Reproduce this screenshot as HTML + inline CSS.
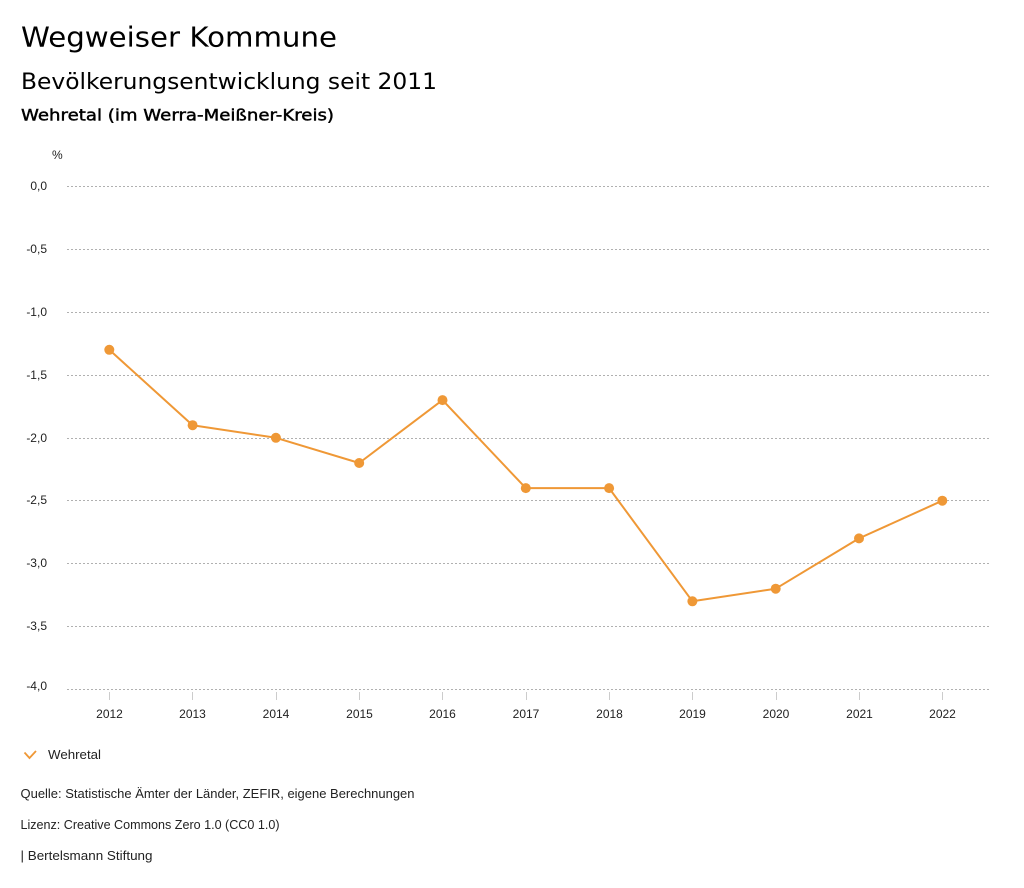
<!DOCTYPE html>
<html><head><meta charset="utf-8"><style>
html,body{margin:0;padding:0;background:#fff;width:1024px;height:888px;overflow:hidden}
svg{display:block}
</style></head><body>
<svg width="1024" height="888" viewBox="0 0 1024 888" xmlns="http://www.w3.org/2000/svg">
<g font-family="'DejaVu Sans', sans-serif" fill="#000">
<text x="21" y="46.5" font-size="28" textLength="316" lengthAdjust="spacingAndGlyphs">Wegweiser Kommune</text>
<text x="21" y="89" font-size="22" textLength="416" lengthAdjust="spacingAndGlyphs">Bevölkerungsentwicklung seit 2011</text>
<text x="21" y="120.5" font-size="16" stroke="#000" stroke-width="0.45" textLength="313" lengthAdjust="spacingAndGlyphs">Wehretal (im Werra-Meißner-Kreis)</text>
</g>
<g font-family="'Liberation Sans', sans-serif" font-size="12" fill="#222">
<text x="52" y="159">%</text>
<g text-anchor="end">
<text x="47" y="190">0,0</text>
<text x="47" y="253">-0,5</text>
<text x="47" y="316">-1,0</text>
<text x="47" y="379">-1,5</text>
<text x="47" y="442">-2,0</text>
<text x="47" y="504">-2,5</text>
<text x="47" y="567">-3,0</text>
<text x="47" y="630">-3,5</text>
<text x="47" y="690">-4,0</text>
</g>
</g>
<g stroke="#b0b0b0" stroke-width="1" stroke-dasharray="2,2">
<line x1="67" x2="990" y1="186.5" y2="186.5"/>
<line x1="67" x2="990" y1="249.5" y2="249.5"/>
<line x1="67" x2="990" y1="312.5" y2="312.5"/>
<line x1="67" x2="990" y1="375.5" y2="375.5"/>
<line x1="67" x2="990" y1="438.5" y2="438.5"/>
<line x1="67" x2="990" y1="500.5" y2="500.5"/>
<line x1="67" x2="990" y1="563.5" y2="563.5"/>
<line x1="67" x2="990" y1="626.5" y2="626.5"/>
<line x1="67" x2="990" y1="689.5" y2="689.5"/>
</g>
<g stroke="#ccc" stroke-width="1">
<line x1="109.5" x2="109.5" y1="692" y2="700"/>
<line x1="192.5" x2="192.5" y1="692" y2="700"/>
<line x1="276.5" x2="276.5" y1="692" y2="700"/>
<line x1="359.5" x2="359.5" y1="692" y2="700"/>
<line x1="442.5" x2="442.5" y1="692" y2="700"/>
<line x1="526.5" x2="526.5" y1="692" y2="700"/>
<line x1="609.5" x2="609.5" y1="692" y2="700"/>
<line x1="692.5" x2="692.5" y1="692" y2="700"/>
<line x1="776.5" x2="776.5" y1="692" y2="700"/>
<line x1="859.5" x2="859.5" y1="692" y2="700"/>
<line x1="942.5" x2="942.5" y1="692" y2="700"/>
</g>
<g font-family="'Liberation Sans', sans-serif" font-size="12" fill="#222" text-anchor="middle">
<text x="109.5" y="718">2012</text>
<text x="192.5" y="718">2013</text>
<text x="276" y="718">2014</text>
<text x="359.5" y="718">2015</text>
<text x="442.5" y="718">2016</text>
<text x="526" y="718">2017</text>
<text x="609.5" y="718">2018</text>
<text x="692.5" y="718">2019</text>
<text x="776" y="718">2020</text>
<text x="859.5" y="718">2021</text>
<text x="942.5" y="718">2022</text>
</g>
<polyline fill="none" stroke="#ef9836" stroke-width="2" stroke-linejoin="round"
points="109.3,349.8 192.6,425.2 275.9,437.8 359.2,463 442.5,400.1 525.8,488.1 609.1,488.1 692.4,601.3 775.7,588.7 859,538.4 942.3,500.7"/>
<g fill="#ef9836">
<circle cx="109.3" cy="349.8" r="5"/>
<circle cx="192.6" cy="425.2" r="5"/>
<circle cx="275.9" cy="437.8" r="5"/>
<circle cx="359.2" cy="463" r="5"/>
<circle cx="442.5" cy="400.1" r="5"/>
<circle cx="525.8" cy="488.1" r="5"/>
<circle cx="609.1" cy="488.1" r="5"/>
<circle cx="692.4" cy="601.3" r="5"/>
<circle cx="775.7" cy="588.7" r="5"/>
<circle cx="859" cy="538.4" r="5"/>
<circle cx="942.3" cy="500.7" r="5"/>
</g>
<polyline fill="none" stroke="#ef9836" stroke-width="1.8" points="24.5,752.5 29.5,758 36,751"/>
<g font-family="'Liberation Sans', sans-serif" font-size="13" fill="#222">
<text x="48" y="759" textLength="53" lengthAdjust="spacingAndGlyphs">Wehretal</text>
<text x="20.5" y="798" textLength="394" lengthAdjust="spacingAndGlyphs">Quelle: Statistische Ämter der Länder, ZEFIR, eigene Berechnungen</text>
<text x="20.5" y="829" textLength="259" lengthAdjust="spacingAndGlyphs">Lizenz: Creative Commons Zero 1.0 (CC0 1.0)</text>
<text x="20.5" y="860" textLength="132" lengthAdjust="spacingAndGlyphs">| Bertelsmann Stiftung</text>
</g>
</svg>
</body></html>
